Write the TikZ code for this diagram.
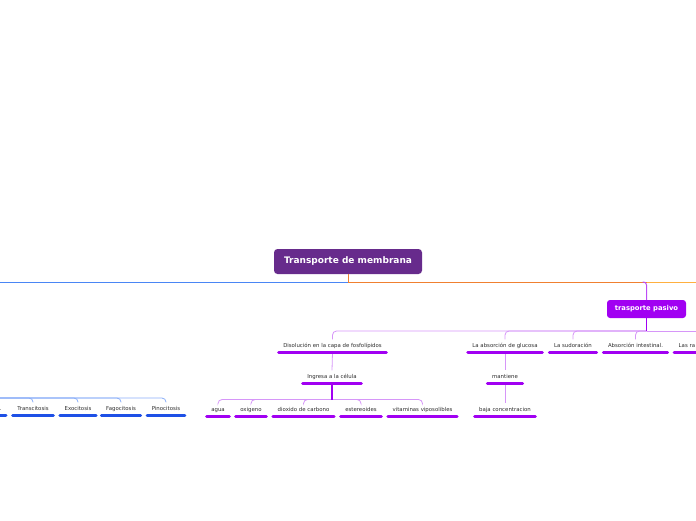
\documentclass[tikz,border=0pt]{standalone}
\usepackage{fontspec}
\setmainfont{DejaVu Sans}
\usetikzlibrary{positioning, calc}

\definecolor{rootviolet}{RGB}{103,43,140}
\definecolor{pasviolet}{RGB}{161,0,242}
\definecolor{lightviolet}{RGB}{214,150,248}
\definecolor{mainorange}{RGB}{240,128,48}
\definecolor{paleorange}{RGB}{255,176,64}
\definecolor{mainblue}{RGB}{74,134,245}
\definecolor{lightblue}{RGB}{138,174,248}
\definecolor{leafblue}{RGB}{30,80,230}
\definecolor{textgray}{RGB}{45,45,45}

\begin{document}
\begin{tikzpicture}[x=1pt, y=-1pt,
    roottopic/.style={fill=rootviolet, rounded corners=3.5pt, text=white,
      font=\bfseries\fontsize{9}{10}\selectfont, minimum width=148pt, minimum height=25pt},
    subtopic/.style={fill=pasviolet, rounded corners=3pt, text=white,
      font=\bfseries\fontsize{6.8}{8}\selectfont, minimum width=79pt, minimum height=18pt},
    leaf/.style={font=\fontsize{5.4}{6}\selectfont, text=textgray, inner xsep=4.5pt,
      inner ysep=3.5pt, text height=4pt, text depth=1.2pt, anchor=south},
    ulviolet/.style={line width=3pt, line cap=round, color=pasviolet},
    ulblue/.style={line width=3pt, line cap=round, color=leafblue},
    thinviolet/.style={color=lightviolet, line width=0.8pt, rounded corners=4pt},
    thickviolet/.style={color=pasviolet, line width=1.6pt},
    thinblue/.style={color=lightblue, line width=0.8pt, rounded corners=4pt}]

  \clip (0,0) rectangle (696,520);

  % main topics
  \node[roottopic] (root) at (348,261.5) {Transporte de membrana};
  \node[subtopic] (pasivo) at (646.5,309) {trasporte pasivo};

  \coordinate (rhub) at (348,282);
  \coordinate (leftend) at (-40,282);
  \coordinate (rightend) at (740,282);
  \coordinate (pbend) at (646.5,282);

  \draw[mainblue, line width=1pt] (rhub) -- (leftend);
  \draw[mainorange, line width=1pt] (root.south) -- (rhub) -- (pbend);
  \draw[paleorange, line width=1pt] (pbend) -- (rightend);
  \draw[pasviolet!70, line width=1pt, rounded corners=3pt] ([xshift=-4pt]pbend) -- (pbend) -- (pasivo.north);

  % level 2
  \node[leaf] (disol) at (332.5,352) {Disolución en la capa de fosfolípidos};
  \node[leaf] (glucosa) at (505,352) {La absorción de glucosa};
  \node[leaf] (sudor) at (573,352) {La sudoración};
  \node[leaf] (intest) at (635.5,352) {Absorción intestinal.};
  \node[leaf, anchor=south west] (lasra) at (674,352) {Las ra};

  \coordinate (phub) at (646.5,331);
  \coordinate (pend) at (740,331);
  \draw[thinviolet] (phub) -| (disol.north);
  \draw[thinviolet] (phub) -| (glucosa.north);
  \draw[thinviolet] (phub) -| (sudor.north);
  \draw[thinviolet] (phub) -| (intest.north);
  \draw[thinviolet] (phub) -- (pend);
  \draw[thickviolet] (pasivo.south) -- (phub);

  % level 3
  \node[leaf] (ingresa) at (332,383) {Ingresa a la célula};
  \node[leaf] (mantiene) at (505,383) {mantiene};
  \draw[thinviolet] (disol.south) -- (ingresa.north);
  \draw[thinviolet] (glucosa.south) -- (mantiene.north);

  % level 4
  \node[leaf] (agua) at (218,416) {agua};
  \node[leaf] (oxigeno) at (251,416) {oxigeno};
  \node[leaf] (dioxido) at (303.5,416) {dioxido de carbono};
  \node[leaf] (estereo) at (361,416) {estereoides};
  \node[leaf] (vitam) at (422.5,416) {vitaminas viposolibles};
  \node[leaf] (baja) at (505,416) {baja concentracion};

  \coordinate (ihub) at (332,399.5);
  \draw[thinviolet] (mantiene.south) -- (baja.north);
  \foreach \n in {agua,oxigeno,dioxido,estereo,vitam}
    \draw[thinviolet] (ihub) -| (\n.north);
  \fill[pasviolet] ([xshift=-0.8pt]ingresa.south) rectangle ([xshift=0.8pt]ihub);

  % blue branch (comes from the left)
  \node[leaf] (transc) at (33,415) {Transcitosis};
  \node[leaf] (exoc) at (78,415) {Exocitosis};
  \node[leaf] (fagoc) at (121,415) {Fagocitosis};
  \node[leaf] (pinoc) at (166,415) {Pinocitosis};
  \node[leaf, anchor=south east] (prev) at (6,415) {.};

  \coordinate (bhub) at (-40,398);
  \foreach \n in {transc,exoc,fagoc,pinoc}
    \draw[thinblue] (bhub) -| (\n.north);

  % underlines
  \foreach \n in {disol,glucosa,sudor,intest,lasra,ingresa,mantiene,agua,oxigeno,dioxido,estereo,vitam,baja}
    \draw[ulviolet] (\n.south west) -- (\n.south east);
  \foreach \n in {transc,exoc,fagoc,pinoc}
    \draw[ulblue] (\n.south west) -- (\n.south east);
  \draw[ulblue] (-20,415) -- (prev.south east);
\end{tikzpicture}
\end{document}
